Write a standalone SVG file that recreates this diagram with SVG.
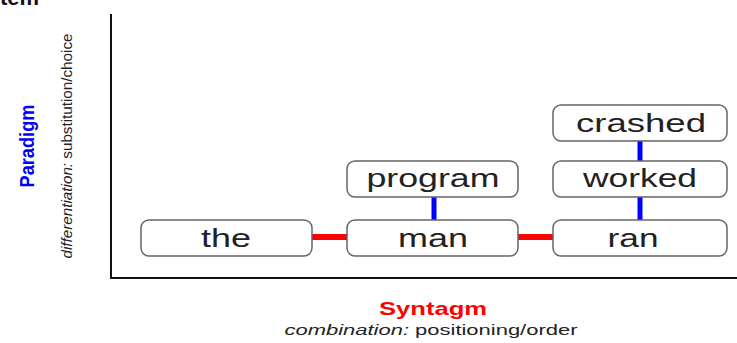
<svg xmlns="http://www.w3.org/2000/svg" width="737" height="343" viewBox="0 0 737 343">
<style>
.box{fill:#fff;stroke:#666;stroke-width:1.5}
.w{font-family:"Liberation Sans",Arial,sans-serif;font-size:26px;fill:#222;text-anchor:middle}
.red{stroke:#f00;stroke-width:6;fill:none}
.blue{stroke:#00f;stroke-width:5;fill:none}
.axis{stroke:#111;stroke-width:2;fill:none}
</style>
<rect width="737" height="343" fill="#fff"/>
<text x="0" y="5" font-family="Liberation Sans,Arial,sans-serif" font-size="22" font-weight="bold" fill="#111">tem</text>
<path class="axis" d="M111,14 V278 H737"/>
<g transform="translate(34,146) rotate(-90)">
<text x="0" y="0" font-family="Liberation Sans,Arial,sans-serif" font-size="20" font-weight="bold" fill="#00f" text-anchor="middle" textLength="83" lengthAdjust="spacingAndGlyphs">Paradigm</text>
</g>
<g transform="translate(72,146) rotate(-90)">
<text x="0" y="0" font-family="Liberation Sans,Arial,sans-serif" font-size="14" fill="#222" text-anchor="middle" textLength="225" lengthAdjust="spacingAndGlyphs"><tspan font-style="italic">differentiation:</tspan> substitution/choice</text>
</g>
<g id="connectors">
<line class="red" x1="312" y1="237" x2="347" y2="237"/>
<line class="red" x1="518" y1="237" x2="553" y2="237"/>
<line class="blue" x1="434" y1="197" x2="434" y2="220"/>
<line class="blue" x1="640" y1="197" x2="640" y2="220"/>
<line class="blue" x1="640" y1="141" x2="640" y2="161"/>
</g>
<g id="the"><rect class="box" x="141" y="220" width="171" height="36" rx="8"/><text class="w" x="226" y="247" textLength="50" lengthAdjust="spacingAndGlyphs">the</text></g>
<g id="man"><rect class="box" x="347" y="220" width="171" height="36" rx="8"/><text class="w" x="433" y="247" textLength="70" lengthAdjust="spacingAndGlyphs">man</text></g>
<g id="program"><rect class="box" x="347" y="161" width="171" height="36" rx="8"/><text class="w" x="433" y="187" textLength="133" lengthAdjust="spacingAndGlyphs">program</text></g>
<g id="ran"><rect class="box" x="553" y="220" width="174" height="36" rx="8"/><text class="w" x="633" y="247" textLength="51" lengthAdjust="spacingAndGlyphs">ran</text></g>
<g id="worked"><rect class="box" x="553" y="161" width="174" height="36" rx="8"/><text class="w" x="640" y="187" textLength="114" lengthAdjust="spacingAndGlyphs">worked</text></g>
<g id="crashed"><rect class="box" x="553" y="105" width="174" height="36" rx="8"/><text class="w" x="641" y="132" textLength="130" lengthAdjust="spacingAndGlyphs">crashed</text></g>
<text x="433" y="315" font-family="Liberation Sans,Arial,sans-serif" font-size="19" font-weight="bold" fill="#f00" text-anchor="middle" textLength="108" lengthAdjust="spacingAndGlyphs">Syntagm</text>
<text x="431" y="335" font-family="Liberation Sans,Arial,sans-serif" font-size="14" fill="#222" text-anchor="middle" textLength="293" lengthAdjust="spacingAndGlyphs"><tspan font-style="italic">combination:</tspan> positioning/order</text>
</svg>
